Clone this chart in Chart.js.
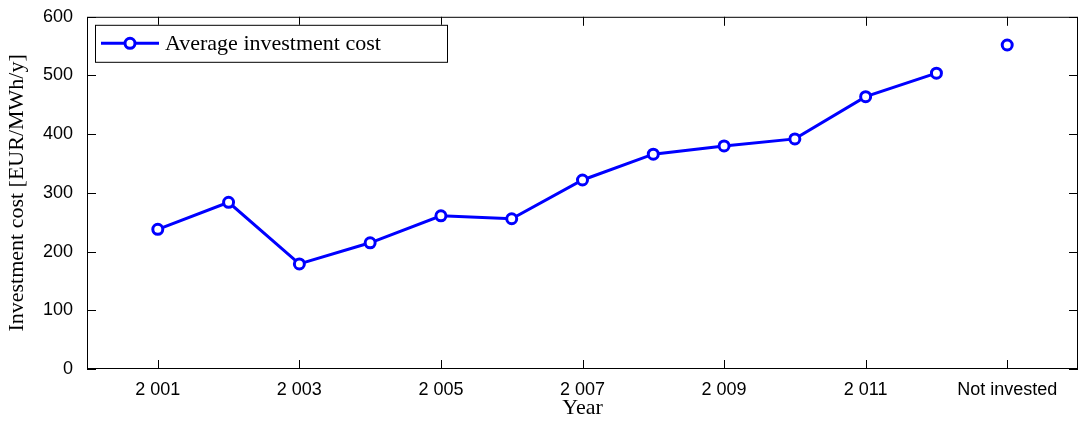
<!DOCTYPE html>
<html>
<head>
<meta charset="utf-8">
<script src="https://cdn.jsdelivr.net/npm/chart.js@4"></script>
<style>
  html, body { margin: 0; padding: 0; background: #fff; overflow: hidden; }
  #wrap { width: 1086px; height: 425px; }
  canvas { display: block; }
</style>
</head>
<body>
<div id="wrap"><canvas id="c"></canvas></div>
<script>
// Years on the axis; 2013 stands for "Not invested"
const years = [2001, 2002, 2003, 2004, 2005, 2006, 2007, 2008, 2009, 2010, 2011, 2012];
const costs = [238, 284, 179, 215, 261, 256, 322, 366, 380, 392, 464, 504];
const notInvestedPos = 2013;
const notInvestedCost = 552;
const yTicks = [0, 100, 200, 300, 400, 500, 600];

function xLabel(v) {
  if (v === notInvestedPos) return 'Not invested';
  if (v % 2 === 1 && v >= 2001 && v <= 2011) return String(v).replace(/^(\d)(\d{3})$/, '$1 $2');
  return '';
}

// Box around plot and MATLAB-like inward ticks, plus the legend box
const framePlugin = {
  id: 'frame',
  afterDraw(chart) {
    const { ctx, chartArea: a, scales } = chart;
    ctx.save();
    ctx.strokeStyle = '#000';
    ctx.lineWidth = 1;
    ctx.strokeRect(a.left + 0.5, a.top + 0.5, a.right - a.left - 1, a.bottom - a.top - 1);
    ctx.beginPath();
    for (let v = 2001; v <= 2013; v += 2) {
      const x = Math.round(scales.x.getPixelForValue(v)) + 0.5;
      ctx.moveTo(x, a.bottom); ctx.lineTo(x, a.bottom - 9);
      ctx.moveTo(x, a.top); ctx.lineTo(x, a.top + 9);
    }
    yTicks.forEach(v => {
      const y = Math.round(scales.y.getPixelForValue(v)) + 0.5;
      ctx.moveTo(a.left, y); ctx.lineTo(a.left + 9, y);
      ctx.moveTo(a.right, y); ctx.lineTo(a.right - 9, y);
    });
    ctx.stroke();

    // legend
    const lx = a.left + 8, ly = a.top + 8, lw = 352, lh = 37;
    ctx.fillStyle = '#fff';
    ctx.fillRect(lx, ly, lw, lh);
    ctx.strokeRect(lx + 0.5, ly + 0.5, lw, lh);
    ctx.strokeStyle = '#0000ff';
    ctx.lineWidth = 3;
    const cy = ly + lh / 2;
    ctx.beginPath(); ctx.moveTo(lx + 6, cy); ctx.lineTo(lx + 64, cy); ctx.stroke();
    ctx.beginPath(); ctx.arc(lx + 35, cy, 5, 0, Math.PI * 2);
    ctx.fillStyle = '#fff'; ctx.fill(); ctx.stroke();
    ctx.fillStyle = '#000';
    ctx.font = '22px "Liberation Serif", "DejaVu Serif", serif';
    ctx.textBaseline = 'middle';
    ctx.fillText('Average investment cost', lx + 70, cy + 1);
    ctx.restore();
  }
};

const pointStyle = {
  borderColor: '#0000ff',
  backgroundColor: '#0000ff',
  pointBackgroundColor: '#ffffff',
  pointBorderColor: '#0000ff',
  pointRadius: 5,
  pointBorderWidth: 3,
  borderWidth: 3
};

new Chart(document.getElementById('c'), {
  type: 'line',
  data: {
    datasets: [
      Object.assign({
        label: 'Average investment cost',
        data: years.map((y, i) => ({ x: y, y: costs[i] }))
      }, pointStyle),
      Object.assign({
        label: 'Not invested',
        data: [{ x: notInvestedPos, y: notInvestedCost }],
        showLine: false
      }, pointStyle)
    ]
  },
  plugins: [framePlugin],
  options: {
    responsive: true,
    maintainAspectRatio: false,
    animation: false,
    layout: { padding: { top: 10, right: 1 } },
    plugins: { legend: { display: false }, tooltip: { enabled: false } },
    scales: {
      x: {
        type: 'linear',
        min: 2000, max: 2014,
        afterFit(s) { s.height = 56; },
        grid: { display: false },
        border: { display: false },
        ticks: {
          stepSize: 1, autoSkip: false, maxRotation: 0,
          color: '#000', padding: 2,
          font: { family: '"Liberation Sans", Arial, sans-serif', size: 18 },
          callback: v => xLabel(v)
        },
        title: {
          display: true, text: 'Year', color: '#000', padding: { top: 3 },
          font: { family: '"Liberation Serif", "DejaVu Serif", serif', size: 22 }
        }
      },
      y: {
        min: 0, max: 600,
        afterFit(s) { s.width = 87; },
        grid: { display: false },
        border: { display: false },
        ticks: {
          stepSize: 100, color: '#000', padding: 6,
          font: { family: '"Liberation Sans", Arial, sans-serif', size: 18 }
        },
        title: {
          display: true, text: 'Investment cost [EUR/MWh/y]', color: '#000', padding: { bottom: 4 },
          font: { family: '"Liberation Serif", "DejaVu Serif", serif', size: 22 }
        }
      }
    }
  }
});
</script>
</body>
</html>
